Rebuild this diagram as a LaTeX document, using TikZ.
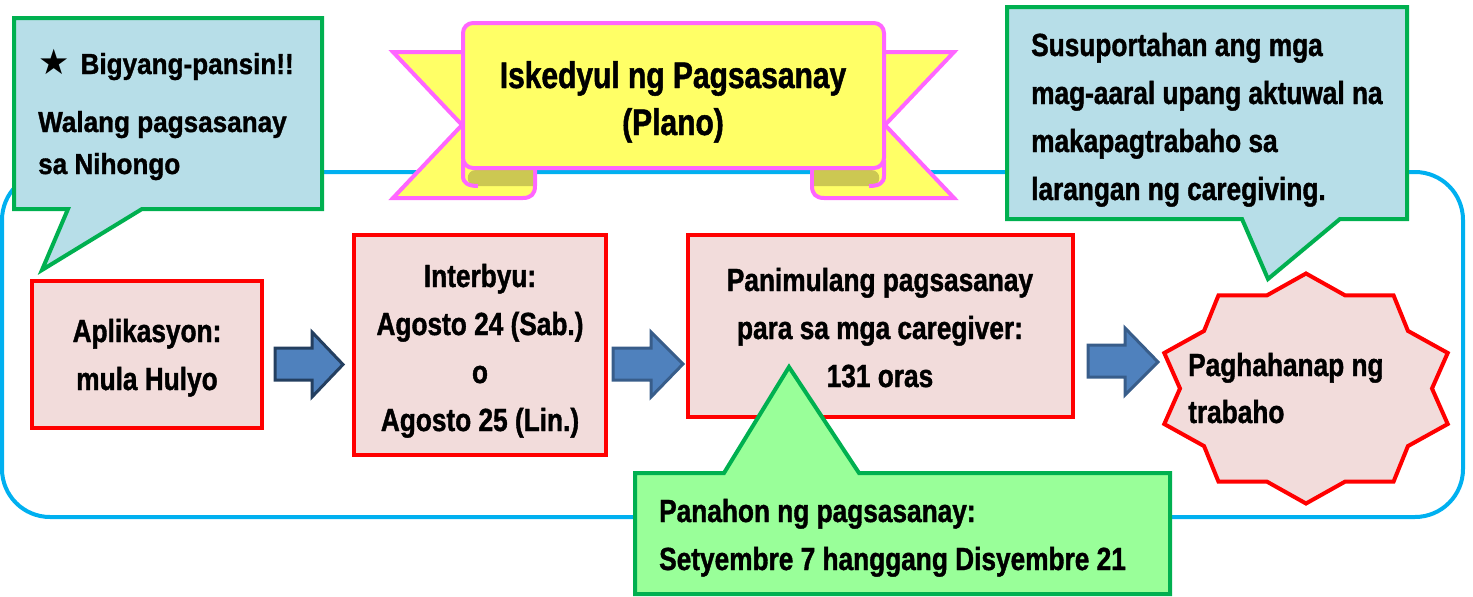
\documentclass[tikz,border=0pt]{standalone}
\usepackage{fontspec}
\setmainfont{Liberation Sans}[FakeStretch=0.82,FakeBold=1.2]
\newfontfamily\smallnar{Liberation Sans}[FakeStretch=0.9,FakeBold=1.2]
\newfontfamily\titlenar{Liberation Sans}[FakeStretch=0.81,FakeBold=1.3]
\newfontfamily\symfont{DejaVu Sans}
\definecolor{boxred}{HTML}{FF0000}
\definecolor{boxfill}{HTML}{F2DCDB}
\definecolor{cgreen}{HTML}{00B050}
\definecolor{cblue}{HTML}{B7DEE8}
\definecolor{lgreen}{HTML}{99FF99}
\definecolor{bpink}{HTML}{FF66FF}
\definecolor{byellow}{HTML}{FFFF66}
\definecolor{bolive}{HTML}{CCC852}
\definecolor{afill}{HTML}{4F81BD}
\definecolor{aline}{HTML}{385D8A}
\definecolor{alinedark}{HTML}{243F60}
\definecolor{cyanc}{HTML}{00B0F0}
\begin{document}
\begin{tikzpicture}[x=1pt,y=-1pt,
  txt/.style={anchor=base, inner sep=0pt, font=\fontsize{32}{38}\selectfont\bfseries},
  txtw/.style={txt, anchor=base west},
  smalltxt/.style={anchor=base west, inner sep=0pt, font=\smallnar\fontsize{29}{35}\selectfont\bfseries},
  titletxt/.style={anchor=base, inner sep=0pt, font=\titlenar\fontsize{37}{44}\selectfont\bfseries},
  redbox/.style={draw=boxred, fill=boxfill, line width=4pt, inner sep=0pt},
  bluecall/.style={draw=cgreen, fill=cblue, line width=4pt},
  greencall/.style={draw=cgreen, fill=lgreen, line width=4pt},
  blockarrow/.style={draw=aline, fill=afill, line width=3pt},
  bannerpart/.style={draw=bpink, fill=byellow, line width=4pt},
  bannerline/.style={draw=bpink, line width=4pt},
  frame/.style={draw=cyanc, line width=4pt, rounded corners=48pt},
  starbox/.style={draw=boxred, fill=boxfill, line width=4pt},
]
\useasboundingbox (0,0) rectangle (1473,597);

% big frame
\draw[frame] (2,172) rectangle (1463,517);

% banner tails
\draw[bannerpart] (393,52) -- (500,52) -- (535,150) -- (535,186) .. controls (535,194) and (531,198) .. (523,198) -- (393,198) -- (462,125) -- cycle;
\draw[bannerpart] (954,52) -- (847,52) -- (812,150) -- (812,186) .. controls (812,194) and (816,198) .. (824,198) -- (954,198) -- (885,125) -- cycle;
% folds
\fill[bolive] (533,170) -- (476,170) .. controls (465,170) and (465,186) .. (476,186) -- (533,186) -- cycle;
\fill[bolive] (814,170) -- (871,170) .. controls (882,170) and (882,186) .. (871,186) -- (814,186) -- cycle;
\draw[bannerline] (463,160) -- (463,176) .. controls (463,183) and (468,186) .. (478,186);
\draw[bannerline] (884,160) -- (884,176) .. controls (884,183) and (879,186) .. (869,186);
% banner panel
\draw[bannerpart, rounded corners=10pt] (463,168) -- (463,23) -- (884,23) -- (884,168) -- cycle;
\node[titletxt] (t1) at (673,88) {Iskedyul ng Pagsasanay};
\node[titletxt] (t2) at (673,135) {(Plano)};

% top-left callout
\draw[bluecall] (14,18) -- (322,18) -- (322,209) -- (142,209) -- (42,270) -- (68,209) -- (14,209) -- cycle;
\node[smalltxt] (c1a) at (38,74) {{\symfont\fontsize{35}{35}\selectfont ★}\hspace*{11pt}Bigyang-pansin!!};
\node[smalltxt] (c1b) at (38,132) {Walang pagsasanay};
\node[smalltxt] (c1c) at (38,174) {sa Nihongo};

% top-right callout
\draw[bluecall] (1007,7) -- (1407,7) -- (1407,219) -- (1340,219) -- (1268,279) -- (1242,219) -- (1007,219) -- cycle;
\node[txtw] (c2a) at (1031,56) {Susuportahan ang mga};
\node[txtw] (c2b) at (1031,104) {mag-aaral upang aktuwal na};
\node[txtw] (c2c) at (1031,152) {makapagtrabaho sa};
\node[txtw] (c2d) at (1031,200) {larangan ng caregiving.};

% process boxes
\node[redbox, minimum width=230pt, minimum height=147pt] (app) at (147,354.5) {};
\node[txt] (app1) at (147,342) {Aplikasyon:};
\node[txt] (app2) at (147,390) {mula Hulyo};

\node[redbox, minimum width=252pt, minimum height=220pt] (int) at (480,345) {};
\node[txt] (int1) at (480,287) {Interbyu:};
\node[txt] (int2) at (480,335) {Agosto 24 (Sab.)};
\node[txt] (int3) at (480,383) {o};
\node[txt] (int4) at (480,431) {Agosto 25 (Lin.)};

\node[redbox, minimum width=385pt, minimum height=182pt] (pan) at (880.5,326) {};
\node[txt] (pan1) at (880,291) {Panimulang pagsasanay};
\node[txt] (pan2) at (880,339) {para sa mga caregiver:};
\node[txt] (pan3) at (880,387) {131 oras};

% block arrows
\draw[blockarrow, draw=alinedark] (275,348) -- (312,348) -- (312,332) -- (343,364.5) -- (312,397) -- (312,380) -- (275,380) -- cycle;
\draw[blockarrow] (613,348) -- (651,348) -- (651,332) -- (683,364) -- (651,397) -- (651,380) -- (613,380) -- cycle;
\draw[blockarrow] (1088,345) -- (1125,345) -- (1125,328) -- (1158,362) -- (1125,395) -- (1125,377) -- (1088,377) -- cycle;

% star
\draw[starbox] plot[samples at={0,...,19}] ({1306+ifthenelse(mod(\x,2)==0,149,126)*cos(90+18*\x)},{388.5+ifthenelse(mod(\x,2)==0,115,98)*sin(90+18*\x)}) -- cycle;
\coordinate (starc) at (1306,388.5);
\node[txtw] (job1) at (1188,376) {Paghahanap ng};
\node[txtw] (job2) at (1188,423) {trabaho};

% bottom callout
\draw[greencall] (635,473) -- (724,473) -- (789,367) -- (859,473) -- (1170,473) -- (1170,594) -- (635,594) -- cycle;
\node[txtw] (g1) at (659,522) {Panahon ng pagsasanay:};
\node[txtw] (g2) at (659,570) {Setyembre 7 hanggang Disyembre 21};
\end{tikzpicture}
\end{document}
